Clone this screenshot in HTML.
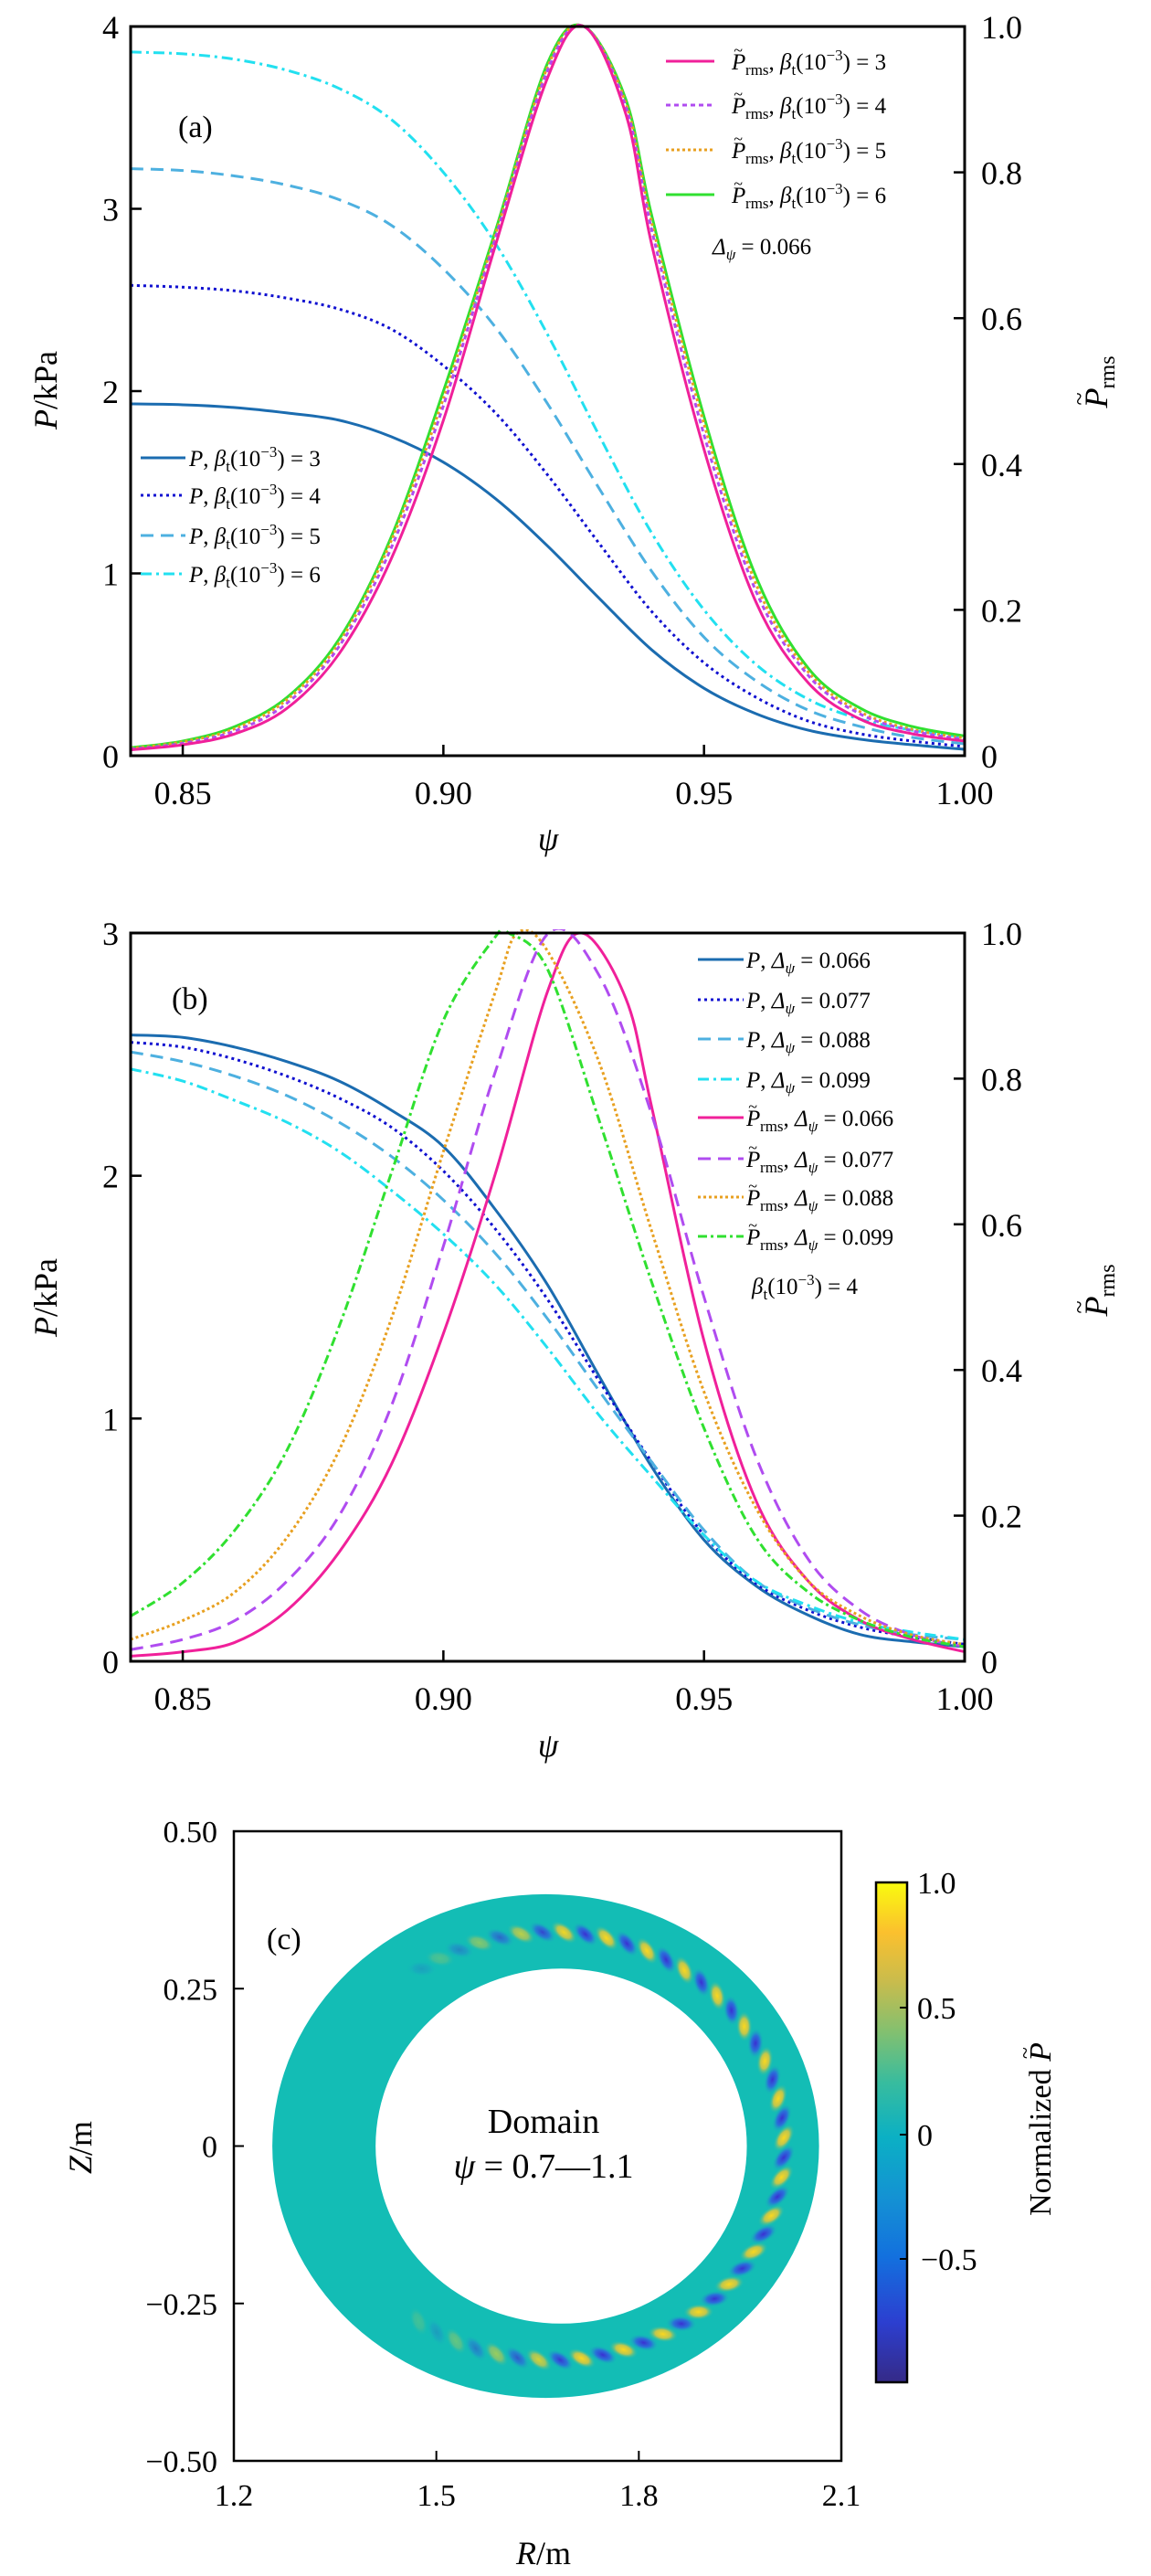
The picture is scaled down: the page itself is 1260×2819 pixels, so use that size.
<!DOCTYPE html>
<html><head><meta charset="utf-8">
<style>
html,body{margin:0;padding:0;background:#fff;}
svg{display:block;}
svg text{font-family:"Liberation Serif","DejaVu Serif",serif;}
</style></head>
<body>
<svg id="fig" width="1260" height="2819" viewBox="0 0 1260 2819" xmlns="http://www.w3.org/2000/svg" font-family="Liberation Serif, serif">
<defs>
<linearGradient id="parula" x1="0" y1="1" x2="0" y2="0">
<stop offset="0" stop-color="#352a87"/><stop offset="0.12" stop-color="#2c3fd0"/><stop offset="0.25" stop-color="#1370de"/><stop offset="0.37" stop-color="#1492d3"/><stop offset="0.49" stop-color="#0bb0c4"/><stop offset="0.6" stop-color="#38bc9e"/><stop offset="0.7" stop-color="#82c070"/><stop offset="0.8" stop-color="#c8bc4d"/><stop offset="0.9" stop-color="#fbc02e"/><stop offset="1" stop-color="#f9fb0e"/>
</linearGradient>
<radialGradient id="gy"><stop offset="0" stop-color="#fbd81e"/><stop offset="0.5" stop-color="#e0c83a" stop-opacity="0.85"/><stop offset="1" stop-color="#13bdb5" stop-opacity="0"/></radialGradient>
<radialGradient id="gb"><stop offset="0" stop-color="#3a2fd2"/><stop offset="0.5" stop-color="#2e62e0" stop-opacity="0.85"/><stop offset="1" stop-color="#13bdb5" stop-opacity="0"/></radialGradient>
</defs>

<!-- Panel A -->
<g id="panelA">
  <g id="aCurves"></g>
  <g id="aAxes"></g>
  <text x="195" y="150" font-size="34">(a)</text>
  <text transform="translate(62,427) rotate(-90)" text-anchor="middle" font-size="36"><tspan font-style="italic">P</tspan>/kPa</text>
  <text transform="translate(1212,418) rotate(-90)" text-anchor="middle" font-size="36"><tspan font-style="italic">P</tspan><tspan dx="-19" dy="-22" font-size="26">~</tspan><tspan dx="4" dy="30" font-size="24">rms</tspan></text>
  <text x="600" y="930" text-anchor="middle" font-size="36" font-style="italic">ψ</text>
  <g font-size="25">
    <line x1="729" y1="67" x2="782" y2="67" stroke="#f0209a" stroke-width="3"/>
    <text x="801" y="76"><tspan font-style="italic">P</tspan><tspan dx="-13" dy="-15" font-size="18">~</tspan><tspan dx="3" dy="21" font-size="17">rms</tspan><tspan dy="-6">, </tspan><tspan font-style="italic">β</tspan><tspan dy="6" font-size="17">t</tspan><tspan dy="-6">(10</tspan><tspan dy="-10" font-size="17">−3</tspan><tspan dy="10">) = 3</tspan></text>
    <line x1="729" y1="115" x2="782" y2="115" stroke="#b04cf0" stroke-width="3" stroke-dasharray="5,4"/>
    <text x="801" y="124"><tspan font-style="italic">P</tspan><tspan dx="-13" dy="-15" font-size="18">~</tspan><tspan dx="3" dy="21" font-size="17">rms</tspan><tspan dy="-6">, </tspan><tspan font-style="italic">β</tspan><tspan dy="6" font-size="17">t</tspan><tspan dy="-6">(10</tspan><tspan dy="-10" font-size="17">−3</tspan><tspan dy="10">) = 4</tspan></text>
    <line x1="729" y1="164" x2="782" y2="164" stroke="#e8a020" stroke-width="3" stroke-dasharray="3,3"/>
    <text x="801" y="173"><tspan font-style="italic">P</tspan><tspan dx="-13" dy="-15" font-size="18">~</tspan><tspan dx="3" dy="21" font-size="17">rms</tspan><tspan dy="-6">, </tspan><tspan font-style="italic">β</tspan><tspan dy="6" font-size="17">t</tspan><tspan dy="-6">(10</tspan><tspan dy="-10" font-size="17">−3</tspan><tspan dy="10">) = 5</tspan></text>
    <line x1="729" y1="213" x2="782" y2="213" stroke="#30e030" stroke-width="3"/>
    <text x="801" y="222"><tspan font-style="italic">P</tspan><tspan dx="-13" dy="-15" font-size="18">~</tspan><tspan dx="3" dy="21" font-size="17">rms</tspan><tspan dy="-6">, </tspan><tspan font-style="italic">β</tspan><tspan dy="6" font-size="17">t</tspan><tspan dy="-6">(10</tspan><tspan dy="-10" font-size="17">−3</tspan><tspan dy="10">) = 6</tspan></text>
    <text x="780" y="278"><tspan font-style="italic">Δ</tspan><tspan dy="6" font-size="17" font-style="italic">ψ</tspan><tspan dy="-6"> = 0.066</tspan></text>
  </g>
  <g font-size="25">
    <line x1="154" y1="501" x2="203" y2="501" stroke="#1b6cb0" stroke-width="3"/>
    <text x="207" y="510"><tspan font-style="italic">P</tspan>, <tspan font-style="italic">β</tspan><tspan dy="6" font-size="17">t</tspan><tspan dy="-6">(10</tspan><tspan dy="-10" font-size="17">−3</tspan><tspan dy="10">) = 3</tspan></text>
    <line x1="154" y1="542" x2="203" y2="542" stroke="#1010d0" stroke-width="3" stroke-dasharray="3,4"/>
    <text x="207" y="551"><tspan font-style="italic">P</tspan>, <tspan font-style="italic">β</tspan><tspan dy="6" font-size="17">t</tspan><tspan dy="-6">(10</tspan><tspan dy="-10" font-size="17">−3</tspan><tspan dy="10">) = 4</tspan></text>
    <line x1="154" y1="586" x2="203" y2="586" stroke="#4db0e0" stroke-width="3" stroke-dasharray="14,8"/>
    <text x="207" y="595"><tspan font-style="italic">P</tspan>, <tspan font-style="italic">β</tspan><tspan dy="6" font-size="17">t</tspan><tspan dy="-6">(10</tspan><tspan dy="-10" font-size="17">−3</tspan><tspan dy="10">) = 5</tspan></text>
    <line x1="154" y1="628" x2="203" y2="628" stroke="#22e0f0" stroke-width="3" stroke-dasharray="12,5,3,5"/>
    <text x="207" y="637"><tspan font-style="italic">P</tspan>, <tspan font-style="italic">β</tspan><tspan dy="6" font-size="17">t</tspan><tspan dy="-6">(10</tspan><tspan dy="-10" font-size="17">−3</tspan><tspan dy="10">) = 6</tspan></text>
  </g>
</g>

<!-- Panel B -->
<g id="panelB">
  <g id="bCurves"></g>
  <g id="bAxes"></g>
  <text x="188" y="1104" font-size="34">(b)</text>
  <text transform="translate(62,1420) rotate(-90)" text-anchor="middle" font-size="36"><tspan font-style="italic">P</tspan>/kPa</text>
  <text transform="translate(1212,1412) rotate(-90)" text-anchor="middle" font-size="36"><tspan font-style="italic">P</tspan><tspan dx="-19" dy="-22" font-size="26">~</tspan><tspan dx="4" dy="30" font-size="24">rms</tspan></text>
  <text x="600" y="1922" text-anchor="middle" font-size="36" font-style="italic">ψ</text>
  <g font-size="25">
    <line x1="764" y1="1050" x2="814" y2="1050" stroke="#1b6cb0" stroke-width="3"/>
    <text x="817" y="1059"><tspan font-style="italic">P</tspan>, <tspan font-style="italic">Δ</tspan><tspan dy="6" font-size="17" font-style="italic">ψ</tspan><tspan dy="-6"> = 0.066</tspan></text>
    <line x1="764" y1="1094" x2="814" y2="1094" stroke="#1010d0" stroke-width="3" stroke-dasharray="3,4"/>
    <text x="817" y="1103"><tspan font-style="italic">P</tspan>, <tspan font-style="italic">Δ</tspan><tspan dy="6" font-size="17" font-style="italic">ψ</tspan><tspan dy="-6"> = 0.077</tspan></text>
    <line x1="764" y1="1137" x2="814" y2="1137" stroke="#4db0e0" stroke-width="3" stroke-dasharray="14,8"/>
    <text x="817" y="1146"><tspan font-style="italic">P</tspan>, <tspan font-style="italic">Δ</tspan><tspan dy="6" font-size="17" font-style="italic">ψ</tspan><tspan dy="-6"> = 0.088</tspan></text>
    <line x1="764" y1="1181" x2="814" y2="1181" stroke="#22e0f0" stroke-width="3" stroke-dasharray="12,5,3,5"/>
    <text x="817" y="1190"><tspan font-style="italic">P</tspan>, <tspan font-style="italic">Δ</tspan><tspan dy="6" font-size="17" font-style="italic">ψ</tspan><tspan dy="-6"> = 0.099</tspan></text>
    <line x1="764" y1="1223" x2="814" y2="1223" stroke="#f0209a" stroke-width="3"/>
    <text x="817" y="1232"><tspan font-style="italic">P</tspan><tspan dx="-13" dy="-15" font-size="18">~</tspan><tspan dx="3" dy="21" font-size="17">rms</tspan><tspan dy="-6">, </tspan><tspan font-style="italic">Δ</tspan><tspan dy="6" font-size="17" font-style="italic">ψ</tspan><tspan dy="-6"> = 0.066</tspan></text>
    <line x1="764" y1="1268" x2="814" y2="1268" stroke="#b04cf0" stroke-width="3" stroke-dasharray="14,8"/>
    <text x="817" y="1277"><tspan font-style="italic">P</tspan><tspan dx="-13" dy="-15" font-size="18">~</tspan><tspan dx="3" dy="21" font-size="17">rms</tspan><tspan dy="-6">, </tspan><tspan font-style="italic">Δ</tspan><tspan dy="6" font-size="17" font-style="italic">ψ</tspan><tspan dy="-6"> = 0.077</tspan></text>
    <line x1="764" y1="1310" x2="814" y2="1310" stroke="#e8a020" stroke-width="3" stroke-dasharray="3,3"/>
    <text x="817" y="1319"><tspan font-style="italic">P</tspan><tspan dx="-13" dy="-15" font-size="18">~</tspan><tspan dx="3" dy="21" font-size="17">rms</tspan><tspan dy="-6">, </tspan><tspan font-style="italic">Δ</tspan><tspan dy="6" font-size="17" font-style="italic">ψ</tspan><tspan dy="-6"> = 0.088</tspan></text>
    <line x1="764" y1="1353" x2="814" y2="1353" stroke="#30e030" stroke-width="3" stroke-dasharray="10,4,3,4"/>
    <text x="817" y="1362"><tspan font-style="italic">P</tspan><tspan dx="-13" dy="-15" font-size="18">~</tspan><tspan dx="3" dy="21" font-size="17">rms</tspan><tspan dy="-6">, </tspan><tspan font-style="italic">Δ</tspan><tspan dy="6" font-size="17" font-style="italic">ψ</tspan><tspan dy="-6"> = 0.099</tspan></text>
    <text x="823" y="1416"><tspan font-style="italic">β</tspan><tspan dy="6" font-size="17">t</tspan><tspan dy="-6">(10</tspan><tspan dy="-10" font-size="17">−3</tspan><tspan dy="10">) = 4</tspan></text>
  </g>
</g>

<!-- Panel C -->
<g id="panelC">
  <g id="ring"></g>
  <g id="cAxes"></g>
  <text x="292" y="2133" font-size="34">(c)</text>
  <text x="595" y="2334" text-anchor="middle" font-size="38">Domain</text>
  <text x="595" y="2383" text-anchor="middle" font-size="38"><tspan font-style="italic">ψ</tspan> = 0.7—1.1</text>
  <text transform="translate(100,2350) rotate(-90)" text-anchor="middle" font-size="36"><tspan font-style="italic">Z</tspan>/m</text>
  <text x="595" y="2806" text-anchor="middle" font-size="36"><tspan font-style="italic">R</tspan>/m</text>
  <rect x="959" y="2060" width="34" height="547" fill="url(#parula)" stroke="#000" stroke-width="2.5"/>
  <g font-size="34">
    <line x1="993" y1="2197" x2="985" y2="2197" stroke="#000" stroke-width="2"/>
    <line x1="993" y1="2336" x2="985" y2="2336" stroke="#000" stroke-width="2"/>
    <line x1="993" y1="2472" x2="985" y2="2472" stroke="#000" stroke-width="2"/>
    <text x="1004" y="2072">1.0</text>
    <text x="1004" y="2209">0.5</text>
    <text x="1004" y="2348">0</text>
    <text x="1008" y="2484">−0.5</text>
  </g>
  <text transform="translate(1150,2330) rotate(-90)" text-anchor="middle" font-size="34">Normalized <tspan font-style="italic">P</tspan><tspan dx="-18" dy="-20" font-size="24">~</tspan></text>
</g>
</svg>

<script>
// ---------- Panel (a) data ----------
const aPsi = [0.84,0.85,0.86,0.87,0.88,0.89,0.90,0.91,0.92,0.93,0.94,0.95,0.96,0.97,0.98,0.99,1.00];
const aP3 = [1.93,1.925,1.91,1.88,1.84,1.75,1.61,1.41,1.15,0.86,0.58,0.37,0.23,0.14,0.09,0.06,0.035];
const aP4 = [2.58,2.57,2.55,2.51,2.45,2.34,2.14,1.88,1.54,1.16,0.79,0.51,0.32,0.19,0.12,0.08,0.05];
const aP5 = [3.22,3.21,3.18,3.13,3.05,2.91,2.67,2.35,1.93,1.46,1.01,0.65,0.41,0.25,0.16,0.10,0.065];
const aP6 = [3.86,3.85,3.82,3.76,3.66,3.49,3.20,2.81,2.31,1.75,1.22,0.80,0.50,0.31,0.20,0.14,0.10];
const aPsiRms = [0.84,0.85,0.86,0.87,0.88,0.89,0.90,0.91,0.92,0.927,0.935,0.94,0.95,0.96,0.97,0.98,0.99,1.00];
const aRms3 = [0.008,0.015,0.03,0.065,0.14,0.27,0.46,0.70,0.93,1.0,0.88,0.70,0.42,0.21,0.10,0.05,0.03,0.02];
const aRms4 = [0.009,0.017,0.034,0.072,0.15,0.285,0.48,0.71,0.94,1.0,0.89,0.72,0.44,0.225,0.11,0.057,0.034,0.022];
const aRms5 = [0.01,0.019,0.037,0.077,0.155,0.295,0.49,0.715,0.945,1.0,0.895,0.73,0.455,0.235,0.115,0.06,0.036,0.024];
const aRms6 = [0.011,0.02,0.04,0.08,0.16,0.30,0.50,0.72,0.95,1.0,0.90,0.74,0.465,0.245,0.12,0.065,0.04,0.027];
// ---------- Panel (b) data ----------
const bPsi = [0.84,0.85,0.86,0.87,0.88,0.89,0.90,0.91,0.92,0.93,0.94,0.95,0.96,0.97,0.98,0.99,1.00];
const bP066 = [2.58,2.57,2.53,2.47,2.39,2.27,2.12,1.86,1.55,1.17,0.80,0.50,0.31,0.19,0.11,0.08,0.06];
const bP077 = [2.55,2.53,2.48,2.41,2.32,2.20,2.02,1.78,1.49,1.15,0.82,0.52,0.32,0.21,0.14,0.10,0.07];
const bP088 = [2.51,2.47,2.41,2.33,2.22,2.08,1.90,1.68,1.41,1.11,0.82,0.54,0.33,0.22,0.15,0.11,0.09];
const bP099 = [2.44,2.39,2.31,2.22,2.10,1.94,1.76,1.55,1.29,1.01,0.76,0.52,0.33,0.23,0.16,0.12,0.09];
const bPsi066 = [0.84,0.85,0.86,0.87,0.88,0.89,0.90,0.91,0.92,0.9265,0.935,0.94,0.95,0.96,0.97,0.98,0.99,1.00];
const bRms066 = [0.007,0.013,0.026,0.07,0.15,0.27,0.45,0.67,0.92,1.0,0.91,0.76,0.44,0.22,0.11,0.056,0.03,0.013];
const bPsi077 = [0.84,0.85,0.86,0.87,0.88,0.89,0.90,0.91,0.9202,0.93,0.94,0.95,0.96,0.97,0.98,0.99,1.00];
const bRms077 = [0.016,0.03,0.056,0.11,0.20,0.35,0.57,0.81,1.0,0.94,0.75,0.50,0.28,0.14,0.07,0.036,0.02];
const bPsi088 = [0.84,0.85,0.86,0.87,0.88,0.89,0.90,0.91,0.9142,0.92,0.93,0.94,0.95,0.96,0.97,0.98,0.99,1.00];
const bRms088 = [0.03,0.056,0.095,0.17,0.29,0.47,0.70,0.92,1.0,0.975,0.82,0.59,0.37,0.21,0.11,0.062,0.036,0.023];
const bPsi099 = [0.84,0.85,0.86,0.87,0.88,0.89,0.90,0.91,0.9125,0.92,0.93,0.94,0.95,0.96,0.97,0.98,0.99,1.00];
const bRms099 = [0.062,0.108,0.18,0.29,0.46,0.67,0.88,0.995,1.0,0.95,0.74,0.52,0.32,0.17,0.095,0.056,0.033,0.02];
// ---------- Tick labels ----------
const psiTicks = [0.85,0.90,0.95,1.00];
const psiTickLabels = ["0.85","0.90","0.95","1.00"];
const aLeftTicks = [0,1,2,3,4];
const bLeftTicks = [0,1,2,3];
const rightTicks = [0,0.2,0.4,0.6,0.8,1.0];
const rightTickLabels = ["0","0.2","0.4","0.6","0.8","1.0"];
const rTicks = [1.2,1.5,1.8,2.1];
const rTickLabels = ["1.2","1.5","1.8","2.1"];
const zTicks = [0.5,0.25,0,-0.25,-0.5];
const zTickLabels = ["0.50","0.25","0","−0.25","−0.50"];

const NS = "http://www.w3.org/2000/svg";
function mk(tag, attrs, parent){
  const e = document.createElementNS(NS, tag);
  for (const k in attrs) e.setAttribute(k, attrs[k]);
  parent.appendChild(e);
  return e;
}
function smoothPath(pts){
  let d = "M" + pts[0][0].toFixed(1) + "," + pts[0][1].toFixed(1);
  for (let i = 0; i < pts.length - 1; i++){
    const p0 = pts[Math.max(0,i-1)], p1 = pts[i], p2 = pts[i+1], p3 = pts[Math.min(pts.length-1,i+2)];
    const c1x = p1[0] + (p2[0]-p0[0])/6, c1y = p1[1] + (p2[1]-p0[1])/6;
    const c2x = p2[0] - (p3[0]-p1[0])/6, c2y = p2[1] - (p3[1]-p1[1])/6;
    d += " C" + c1x.toFixed(1)+","+c1y.toFixed(1)+" "+c2x.toFixed(1)+","+c2y.toFixed(1)+" "+p2[0].toFixed(1)+","+p2[1].toFixed(1);
  }
  return d;
}

function linePanel(cfg){
  const L = 143, R = 1056, T = cfg.top, B = cfg.bottom;
  const x = v => L + (v - 0.84) / 0.16 * (R - L);
  const yL = v => B - v / cfg.leftMax * (B - T);
  const yR = v => B - v * (B - T);
  const cg = document.getElementById(cfg.curves);
  const clipId = cfg.curves + "-clip";
  const defs = mk("defs", {}, cg);
  const cp = mk("clipPath", {id: clipId}, defs);
  mk("rect", {x: L, y: T - 4, width: R - L, height: B - T + 4}, cp);
  cfg.series.forEach(s => {
    const pts = s.xs.map((v, i) => [x(v), s.axis === "L" ? yL(s.ys[i]) : yR(s.ys[i])]);
    const p = mk("path", {d: smoothPath(pts), fill: "none", stroke: s.color, "stroke-width": 3, "stroke-dasharray": s.dash || "none", "clip-path": "url(#" + clipId + ")"}, cg);
    
    
  });
  const ag = document.getElementById(cfg.axes);
  const frame = mk("rect", {x: L, y: T, width: R - L, height: B - T, fill: "none", stroke: "#000", "stroke-width": 3}, ag);
  
  
  psiTicks.forEach((v, i) => {
    mk("line", {x1: x(v), y1: B, x2: x(v), y2: B - 12, stroke: "#000", "stroke-width": 2.5}, ag);
    const t = mk("text", {x: x(v), y: B + 53, "text-anchor": "middle", "font-size": 36}, ag);
    t.textContent = psiTickLabels[i];
    
    
  });
  cfg.leftTicks.forEach(v => {
    if (v > 0 && v < cfg.leftMax) mk("line", {x1: L, y1: yL(v), x2: L + 12, y2: yL(v), stroke: "#000", "stroke-width": 2.5}, ag);
    const t = mk("text", {x: 130, y: yL(v) + 13, "text-anchor": "end", "font-size": 36}, ag);
    t.textContent = String(v);
    
    
  });
  rightTicks.forEach((v, i) => {
    if (v > 0 && v < 1) mk("line", {x1: R, y1: yR(v), x2: R - 12, y2: yR(v), stroke: "#000", "stroke-width": 2.5}, ag);
    const t = mk("text", {x: 1074, y: yR(v) + 13, "font-size": 36}, ag);
    t.textContent = rightTickLabels[i];
    
    
  });
}

linePanel({top: 29, bottom: 827, leftMax: 4, curves: "aCurves", axes: "aAxes", leftTicks: aLeftTicks, series: [
  {xs: aPsi, ys: aP3, axis: "L", color: "#1b6cb0", name: "p-beta3-line"},
  {xs: aPsi, ys: aP4, axis: "L", color: "#1010d0", dash: "3,4", name: "p-beta4-line"},
  {xs: aPsi, ys: aP5, axis: "L", color: "#4db0e0", dash: "14,8", name: "p-beta5-line"},
  {xs: aPsi, ys: aP6, axis: "L", color: "#22e0f0", dash: "12,5,3,5", name: "p-beta6-line"},
  {xs: aPsiRms, ys: aRms6, axis: "R", color: "#30e030", name: "prms-beta6-line"},
  {xs: aPsiRms, ys: aRms5, axis: "R", color: "#e8a020", dash: "3,3", name: "prms-beta5-line"},
  {xs: aPsiRms, ys: aRms4, axis: "R", color: "#b04cf0", dash: "5,4", name: "prms-beta4-line"},
  {xs: aPsiRms, ys: aRms3, axis: "R", color: "#f0209a", name: "prms-beta3-line"}
]});

linePanel({top: 1021, bottom: 1818, leftMax: 3, curves: "bCurves", axes: "bAxes", leftTicks: bLeftTicks, series: [
  {xs: bPsi, ys: bP066, axis: "L", color: "#1b6cb0", name: "p-d066-line"},
  {xs: bPsi, ys: bP077, axis: "L", color: "#1010d0", dash: "3,4", name: "p-d077-line"},
  {xs: bPsi, ys: bP088, axis: "L", color: "#4db0e0", dash: "14,8", name: "p-d088-line"},
  {xs: bPsi, ys: bP099, axis: "L", color: "#22e0f0", dash: "12,5,3,5", name: "p-d099-line"},
  {xs: bPsi066, ys: bRms066, axis: "R", color: "#f0209a", name: "prms-d066-line"},
  {xs: bPsi077, ys: bRms077, axis: "R", color: "#b04cf0", dash: "14,8", name: "prms-d077-line"},
  {xs: bPsi088, ys: bRms088, axis: "R", color: "#e8a020", dash: "3,3", name: "prms-d088-line"},
  {xs: bPsi099, ys: bRms099, axis: "R", color: "#30e030", dash: "10,4,3,4", name: "prms-d099-line"}
]});

// ---------- Panel (c) ----------
(function(){
  const L = 256, Rr = 921, T = 2004, B = 2693;
  const px = r => L + (r - 1.2) / 0.9 * (Rr - L);
  const py = z => B - (z + 0.5) / 1.0 * (B - T);
  const ring = document.getElementById("ring");
  const outer = {cx: 1.662, a: 0.405, b: 0.40};
  const inner = {cx: 1.685, a: 0.275, b: 0.282};
  const ox = px(outer.cx), oy = py(0), orx = outer.a * (Rr - L) / 0.9, ory = outer.b * (B - T);
  const ix = px(inner.cx), irx = inner.a * (Rr - L) / 0.9, iry = inner.b * (B - T);
  const d = `M${ox - orx},${oy} a${orx},${ory} 0 1,0 ${2*orx},0 a${orx},${ory} 0 1,0 ${-2*orx},0 Z M${ix - irx},${oy} a${irx},${iry} 0 1,1 ${2*irx},0 a${irx},${iry} 0 1,1 ${-2*irx},0 Z`;
  const rp = mk("path", {d: d, fill: "#13bdb5", "fill-rule": "evenodd"}, ring);
  
  
  const clip = mk("clipPath", {id: "ringclip"}, mk("defs", {}, ring));
  mk("path", {d: d, "clip-rule": "evenodd", "fill-rule": "evenodd"}, clip);
  const bg = mk("g", {"clip-path": "url(#ringclip)"}, ring);
  
  
  const mcx = px(1.671), mrx = 0.344 * (Rr - L) / 0.9, mry = 0.34 * (B - T);
  let k = 0;
  for (let deg = -125; deg <= 125; deg += 5.3, k++){
    const th = deg * Math.PI / 180;
    const cx = mcx + mrx * Math.cos(th), cy = oy - mry * Math.sin(th);
    const ang = Math.atan2(-mry * Math.cos(th), -mrx * Math.sin(th)) * 180 / Math.PI + 35;
    const op = Math.abs(deg) < 85 ? 1 : Math.max(0.2, 1 - (Math.abs(deg) - 85) / 45);
    const e = mk("ellipse", {cx: cx.toFixed(1), cy: cy.toFixed(1), rx: 17, ry: 9, fill: (k % 2 ? "url(#gb)" : "url(#gy)"), opacity: op.toFixed(2), transform: `rotate(${ang.toFixed(1)} ${cx.toFixed(1)} ${cy.toFixed(1)})`}, bg);
    
    
  }
  const ag = document.getElementById("cAxes");
  const fr = mk("rect", {x: L, y: T, width: Rr - L, height: B - T, fill: "none", stroke: "#000", "stroke-width": 2.5}, ag);
  
  
  rTicks.forEach((v, i) => {
    if (i > 0 && i < rTicks.length - 1) mk("line", {x1: px(v), y1: B, x2: px(v), y2: B - 11, stroke: "#000", "stroke-width": 2}, ag);
    const t = mk("text", {x: px(v), y: B + 49, "text-anchor": "middle", "font-size": 34}, ag);
    t.textContent = rTickLabels[i];
    
    
  });
  zTicks.forEach((v, i) => {
    if (Math.abs(v) < 0.4) mk("line", {x1: L, y1: py(v), x2: L + 11, y2: py(v), stroke: "#000", "stroke-width": 2}, ag);
    const t = mk("text", {x: 238, y: py(v) + 12, "text-anchor": "end", "font-size": 34}, ag);
    t.textContent = zTickLabels[i];
    
    
  });
})();
</script>
</body></html>
